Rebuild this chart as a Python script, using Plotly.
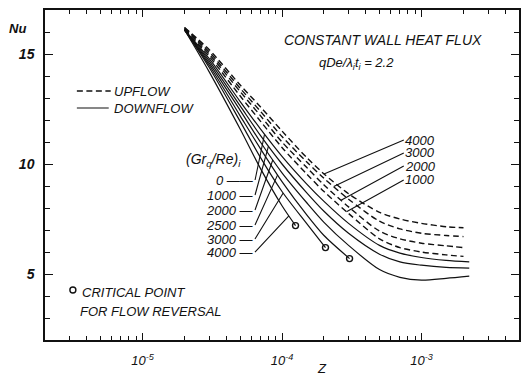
import numpy as np
import plotly.graph_objects as go

# ---------------- data ----------------
Z_up = [2e-5, 3e-5, 5e-5, 7e-5, 1e-4, 1.5e-4, 2e-4, 3e-4, 5e-4, 7e-4, 1e-3, 1.5e-3, 2.0e-3]
Z_dn = [2e-5, 3e-5, 5e-5, 7e-5, 1e-4, 1.5e-4, 2e-4, 3e-4, 5e-4, 7e-4, 1e-3, 1.5e-3, 2.2e-3]

up_4000 = [16.2, 15.2, 13.6, 12.6, 11.5, 10.3, 9.55, 8.65, 7.8, 7.5, 7.3, 7.15, 7.1]
up_3000 = [16.2, 15.1, 13.45, 12.4, 11.25, 10.1, 9.35, 8.4, 7.4, 7.05, 6.85, 6.75, 6.7]
up_2000 = [16.15, 15.0, 13.3, 12.2, 11.0, 9.85, 9.05, 8.05, 6.95, 6.6, 6.4, 6.28, 6.2]
up_1000 = [16.1, 14.9, 13.1, 11.95, 10.75, 9.55, 8.75, 7.75, 6.6, 6.2, 6.0, 5.87, 5.8]

nu_0 = [16.1, 14.8, 12.85, 11.6, 10.35, 9.1, 8.3, 7.3, 6.3, 5.95, 5.75, 5.62, 5.55]
dn_1000 = [16.1, 14.7, 12.65, 11.3, 10.0, 8.7, 7.85, 6.85, 5.9, 5.55, 5.4, 5.3, 5.27]
dn_2000 = [16.1, 14.6, 12.45, 11.0, 9.6, 8.25, 7.35, 6.3, 5.2, 4.85, 4.72, 4.8, 4.9]

Z_dn_2500 = [2e-5, 3e-5, 5e-5, 7e-5, 1e-4, 1.5e-4, 2e-4, 3.05e-4]
dn_2500 = [16.1, 14.5, 12.2, 10.7, 9.2, 7.7, 6.75, 5.7]
Z_dn_3000 = [2e-5, 3e-5, 5e-5, 7e-5, 1e-4, 1.5e-4, 2.05e-4]
dn_3000 = [16.1, 14.4, 11.95, 10.3, 8.75, 7.3, 6.2]
Z_dn_4000 = [2e-5, 3e-5, 5e-5, 7e-5, 1e-4, 1.25e-4]
dn_4000 = [16.1, 14.2, 11.6, 9.8, 8.1, 7.2]

crit_z = [1.25e-4, 2.05e-4, 3.05e-4]
crit_nu = [7.2, 6.2, 5.7]

x_tick_vals = [1e-5, 1e-4, 1e-3]
x_tick_text = ["10<sup>-5</sup>", "10<sup>-4</sup>", "10<sup>-3</sup>"]
y_tick_vals = [5, 10, 15]

left_labels = ["0", "1000", "2000", "2500", "3000", "4000"]
right_labels = ["4000", "3000", "2000", "1000"]

# ---------------- geometry ----------------
W, H = 528, 375
ML, MR, MT, MB = 45, 7, 10, 35
XR = [np.log10(2e-6), np.log10(5e-3)]
YR = [2, 17]
PW, PH = W - ML - MR, H - MT - MB


def to_px(z, nu):
    px = ML + (np.log10(z) - XR[0]) / (XR[1] - XR[0]) * PW
    py = MT + (YR[1] - nu) / (YR[1] - YR[0]) * PH
    return px, py


def on_curve(zs, nus, z):
    return float(np.interp(np.log10(z), np.log10(zs), nus))


FONT = "Liberation Sans, Arial, sans-serif"
BLACK = "#111111"

fig = go.Figure()

dash = "6px,3.5px"
for ys in [up_4000, up_3000, up_2000, up_1000]:
    fig.add_trace(go.Scatter(x=Z_up, y=ys, mode="lines", line=dict(color=BLACK, width=1.4, dash=dash, shape="spline", smoothing=0.8), showlegend=False, hoverinfo="skip"))
for zs, ys in [(Z_dn, nu_0), (Z_dn, dn_1000), (Z_dn, dn_2000), (Z_dn_2500, dn_2500), (Z_dn_3000, dn_3000), (Z_dn_4000, dn_4000)]:
    fig.add_trace(go.Scatter(x=zs, y=ys, mode="lines", line=dict(color=BLACK, width=1.2, shape="spline", smoothing=0.8), showlegend=False, hoverinfo="skip"))

fig.add_trace(go.Scatter(x=crit_z, y=crit_nu, mode="markers", marker=dict(symbol="circle-open", size=6, color=BLACK, line=dict(width=1.4)), showlegend=False, hoverinfo="skip"))

ann = []
tf = dict(family=FONT, size=13, color=BLACK, style="italic")

# left leader labels
left_defs = [
    (nu_0, Z_dn, 7.5e-5, 180, " \u2014\u2014"),
    (dn_1000, Z_dn, 8.0e-5, 195, " \u2014"),
    (dn_2000, Z_dn, 8.6e-5, 210, " \u2014"),
    (dn_2500, Z_dn_2500, 9.3e-5, 225, " \u2014"),
    (dn_3000, Z_dn_3000, 1.02e-4, 239, " \u2014"),
    (dn_4000, Z_dn_4000, 1.12e-4, 252, " \u2014"),
]
for lab, (ys, zs, zt, ly, tail) in zip(left_labels, left_defs):
    yt = on_curve(zs, ys, zt)
    px, py = to_px(zt, yt)
    ann.append(dict(x=np.log10(zt), y=yt, xref="x", yref="y", ax=256 - px, ay=ly - py, axref="pixel", ayref="pixel",
                    text=lab + tail, showarrow=True, arrowhead=0, arrowwidth=1.1, arrowcolor=BLACK,
                    xanchor="right", yanchor="middle", font=tf, borderpad=0))

right_defs = [
    (up_4000, 2.0e-4, 140),
    (up_3000, 2.35e-4, 153),
    (up_2000, 2.65e-4, 166),
    (up_1000, 2.9e-4, 180),
]
for lab, (ys, zt, ly) in zip(right_labels, right_defs):
    yt = on_curve(Z_up, ys, zt)
    px, py = to_px(zt, yt)
    ann.append(dict(x=np.log10(zt), y=yt, xref="x", yref="y", ax=405 - px, ay=ly - py, axref="pixel", ayref="pixel",
                    text=lab, showarrow=True, arrowhead=0, arrowwidth=1.1, arrowcolor=BLACK,
                    xanchor="left", yanchor="middle", font=tf, borderpad=0))


def pap(px, py):
    return (px - ML) / PW, (H - MB - py) / PH


def text(px, py, s, size=13, anchor="left"):
    x, y = pap(px, py)
    ann.append(dict(x=x, y=y, xref="paper", yref="paper", text=s, showarrow=False,
                    xanchor=anchor, yanchor="middle", font=dict(family=FONT, size=size, color=BLACK, style="italic")))


text(384, 40, "CONSTANT WALL HEAT FLUX", 14, "center")
text(358, 63, "qDe/\u03bb<sub>i</sub>t<sub>i</sub> = 2.2", 13, "center")
text(112, 91, "UPFLOW", 13)
text(112, 108, "DOWNFLOW", 13)
text(214, 160, "(Gr<sub>q</sub>/Re)<sub>i</sub>", 14, "center")
text(80, 292, "CRITICAL POINT", 13)
text(78, 311, "FOR FLOW REVERSAL", 13)
text(17, 28, "<b>Nu</b>", 13, "center")
text(323, 368, "Z", 13, "center")

shapes = []
x0, y0 = pap(77, 91)
x1, _ = pap(111, 91)
shapes.append(dict(type="line", xref="paper", yref="paper", x0=x0, x1=x1, y0=y0, y1=y0, line=dict(color=BLACK, width=1.4, dash=dash)))
x0, y0 = pap(77, 108)
x1, _ = pap(109, 108)
shapes.append(dict(type="line", xref="paper", yref="paper", x0=x0, x1=x1, y0=y0, y1=y0, line=dict(color=BLACK, width=1.2)))
cx, cy = pap(73, 290)
shapes.append(dict(type="circle", xref="paper", yref="paper", xsizemode="pixel", ysizemode="pixel", xanchor=cx, yanchor=cy,
                   x0=-3, x1=3, y0=-3, y1=3, line=dict(color=BLACK, width=1.4)))

minor_x = [m * 10.0 ** e for e in range(-6, -2) for m in range(2, 10) if 2e-6 <= m * 10.0 ** e <= 5e-3]

fig.update_layout(
    width=W, height=H, margin=dict(l=ML, r=MR, t=MT, b=MB),
    paper_bgcolor="white", plot_bgcolor="white", showlegend=False,
    annotations=ann, shapes=shapes,
    xaxis=dict(type="log", range=XR, showgrid=False, zeroline=False, showline=True, linecolor=BLACK, linewidth=1.5,
               mirror="ticks", ticks="inside", ticklen=7, tickwidth=1.2, tickcolor=BLACK,
               tickmode="array", tickvals=x_tick_vals, ticktext=x_tick_text, ticklabelstandoff=8,
               tickfont=dict(family=FONT, size=13, color=BLACK, style="italic"),
               minor=dict(tickmode="array", tickvals=minor_x, ticks="inside", ticklen=4, tickwidth=1, tickcolor=BLACK)),
    yaxis=dict(range=YR, showgrid=False, zeroline=False, showline=True, linecolor=BLACK, linewidth=1.5,
               mirror="ticks", ticks="inside", ticklen=8, tickwidth=1.2, tickcolor=BLACK,
               tickmode="array", tickvals=y_tick_vals, ticklabelstandoff=6,
               tickfont=dict(family=FONT, size=14, color=BLACK, style="italic", weight="bold"),
               minor=dict(dtick=1, ticks="inside", ticklen=5, tickwidth=1, tickcolor=BLACK)),
)

fig.write_html("out.html")
